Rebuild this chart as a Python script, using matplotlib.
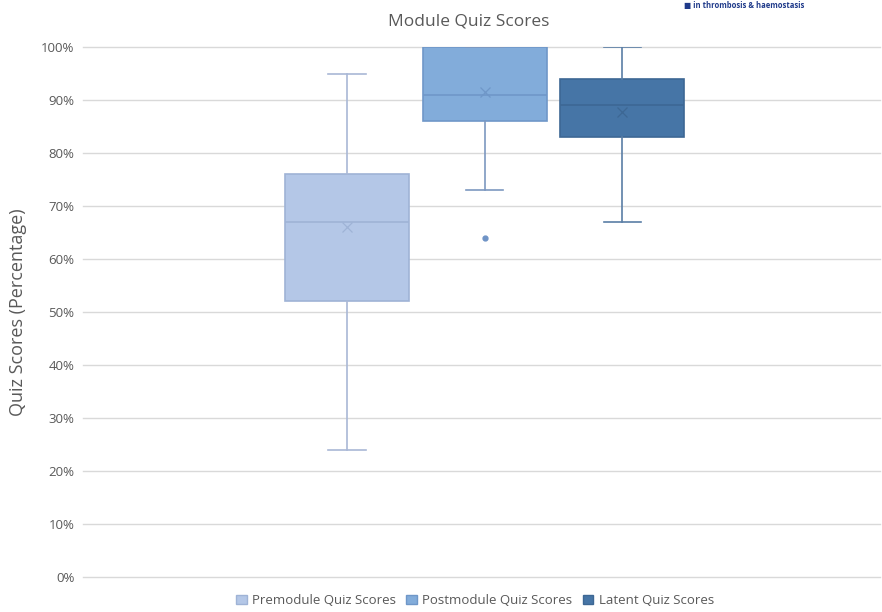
"""Box plots of module quiz scores (pre, post and latent)."""

import matplotlib
matplotlib.use("Agg")
import matplotlib.pyplot as plt
from matplotlib.patches import Patch
from matplotlib.ticker import FuncFormatter, MultipleLocator

plt.rcParams["font.family"] = ["Open Sans", "DejaVu Sans"]

# Summary statistics per quiz (percent)
labels = ["Premodule Quiz Scores", "Postmodule Quiz Scores", "Latent Quiz Scores"]
whisker_low = [24, 73, 67]
q1 = [52, 86, 83]
medians = [67, 91, 89]
q3 = [76, 100, 94]
whisker_high = [95, 100, 100]
means = [66, 91.5, 87.7]
outliers = [[], [64], []]

fills = ["#b4c7e7", "#82acda", "#4675a6"]
edges = ["#9fb3d6", "#6f97c8", "#3d6794"]
lines = ["#a9b8d6", "#7d98c0", "#5a7ea6"]

fig = plt.figure(figsize=(8.82, 6.12), dpi=100)
ax = fig.add_axes([0.094, 0.0572, 0.904, 0.866])

for i, name in enumerate(labels):
    stats = [{
        "label": name,
        "whislo": whisker_low[i],
        "q1": q1[i],
        "med": medians[i],
        "q3": q3[i],
        "whishi": whisker_high[i],
        "mean": means[i],
        "fliers": outliers[i],
    }]
    ax.bxp(
        stats,
        positions=[i + 1],
        widths=0.9,
        capwidths=0.27,
        patch_artist=True,
        showmeans=True,
        boxprops=dict(facecolor=fills[i], edgecolor=edges[i], linewidth=1.2),
        medianprops=dict(color=edges[i], linewidth=1.2),
        whiskerprops=dict(color=lines[i], linewidth=1.2),
        capprops=dict(color=lines[i], linewidth=1.2),
        meanprops=dict(marker="x", markeredgecolor=edges[i], markersize=7,
                       markeredgewidth=0.9),
        flierprops=dict(marker="o", markerfacecolor="#6f93c6",
                        markeredgecolor="#6f93c6", markersize=3.5),
        zorder=3,
    )

ax.set_xlim(-0.92, 4.876)
ax.set_ylim(0, 100)
ax.yaxis.set_major_locator(MultipleLocator(10))
ax.yaxis.set_major_formatter(FuncFormatter(lambda v, _: f"{v:.0f}%"))
ax.set_xticks([])
ax.tick_params(axis="y", length=0, pad=6, labelsize=9.5, labelcolor="#595959")
ax.grid(axis="y", color="#d9d9d9", linewidth=1.0, zorder=0)
ax.set_axisbelow(True)
for gl in ax.get_ygridlines():
    gl.set_clip_on(False)
for spine in ax.spines.values():
    spine.set_visible(False)

ax.set_ylabel("Quiz Scores (Percentage)", fontsize=13, color="#595959", labelpad=10)
fig.text(469 / 882, 1 - 21 / 612, "Module Quiz Scores", ha="center", va="center",
         fontsize=12.5, color="#595959")

# Journal tag in the top corner
fig.text(0.776, 0.999, "\u25a0 in thrombosis & haemostasis", ha="left", va="top",
         fontsize=5.5, color="#1f3a8a", fontweight="bold")

handles = [Patch(facecolor=fills[i], edgecolor=edges[i], label=labels[i])
           for i in range(3)]
fig.legend(handles=handles, loc="lower center", bbox_to_anchor=(475 / 882, -0.012),
           ncol=3, frameon=False, fontsize=9.5, handlelength=0.8, handleheight=0.7,
           handletextpad=0.4, columnspacing=0.8, labelcolor="#595959")

fig.savefig("out.png", dpi=100)
